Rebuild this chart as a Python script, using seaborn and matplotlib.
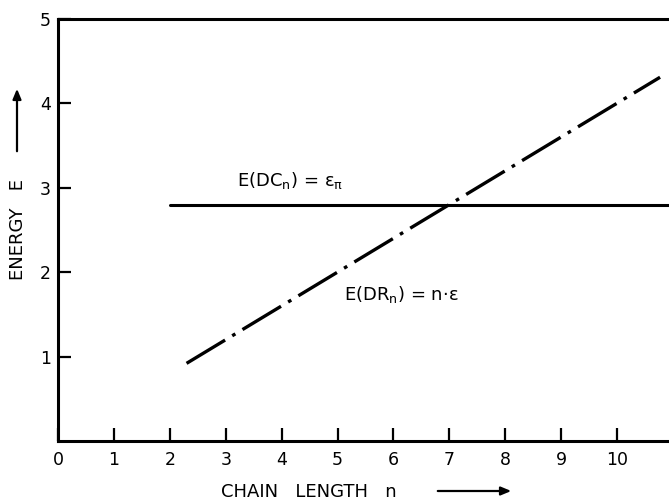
import matplotlib
matplotlib.use("Agg")
import matplotlib.pyplot as plt
import seaborn as sns
import pandas as pd

# Data
dc_n = [2.0, 10.93]
dc_E = [2.8, 2.8]
dr_n = [2.3, 10.77]
dr_E = [0.92, 4.31]
x_ticks = [0, 1, 2, 3, 4, 5, 6, 7, 8, 9, 10]
y_ticks = [1, 2, 3, 4, 5]

sns.set_theme(style="white")
plt.rcParams['font.family'] = ['DejaVu Sans']

fig = plt.figure(figsize=(6.69, 5.0), dpi=100)
ax = fig.add_axes([58/669, 59/500, 1 - 58/669, (441-19)/500])

df_dc = pd.DataFrame({"n": dc_n, "E": dc_E})
df_dr = pd.DataFrame({"n": dr_n, "E": dr_E})
sns.lineplot(data=df_dc, x="n", y="E", ax=ax, color="black", linewidth=2.2)
sns.lineplot(data=df_dr, x="n", y="E", ax=ax, color="black", linewidth=2.4,
             linestyle=(0, (13.5, 2.5, 1.1, 2.5)), dash_capstyle="butt")

ax.set_xlim(0, 10.93)
ax.set_ylim(0, 5)
ax.set_xticks(x_ticks)
ax.set_xticklabels([str(t) for t in x_ticks])
ax.set_yticks(y_ticks)
ax.set_yticklabels([str(t) for t in y_ticks])
ax.set_xlabel("")
ax.set_ylabel("")

for s in ["left", "bottom", "top"]:
    ax.spines[s].set_visible(True)
    ax.spines[s].set_color("black")
    ax.spines[s].set_linewidth(2.2)
ax.spines["right"].set_visible(False)

ax.tick_params(axis="both", direction="in", length=9.5, width=1.6, color="black",
               labelsize=12.5, labelcolor="black", bottom=True, left=True,
               top=False, right=False)
ax.tick_params(axis="x", pad=7)
ax.tick_params(axis="y", pad=5)

ax.text(3.2, 3.09, "E(DC$_\\mathregular{n}$) = ε$_\\mathregular{π}$", fontsize=13,
        ha="left", va="center", color="black")
ax.text(5.12, 1.73, "E(DR$_\\mathregular{n}$) = n·ε", fontsize=13,
        ha="left", va="center", color="black")

# Axis labels with arrows
fig.text(309/669, 1 - 492/500, "CHAIN   LENGTH   n", fontsize=13,
         ha="center", va="center", color="black")
fig.add_artist(matplotlib.patches.FancyArrowPatch(
    (435/669, 1 - 491/500), (514/669, 1 - 491/500), transform=fig.transFigure,
    arrowstyle="-|>,head_length=6,head_width=2.5", color="black", linewidth=1.6))

fig.text(18/669, 1 - 229/500, "ENERGY   E", fontsize=13, rotation=90,
         ha="center", va="center", color="black")
fig.add_artist(matplotlib.patches.FancyArrowPatch(
    (17/669, 1 - 154/500), (17/669, 1 - 86/500), transform=fig.transFigure,
    arrowstyle="-|>,head_length=6,head_width=2.5", color="black", linewidth=1.6))

fig.savefig("out.png", dpi=100)
